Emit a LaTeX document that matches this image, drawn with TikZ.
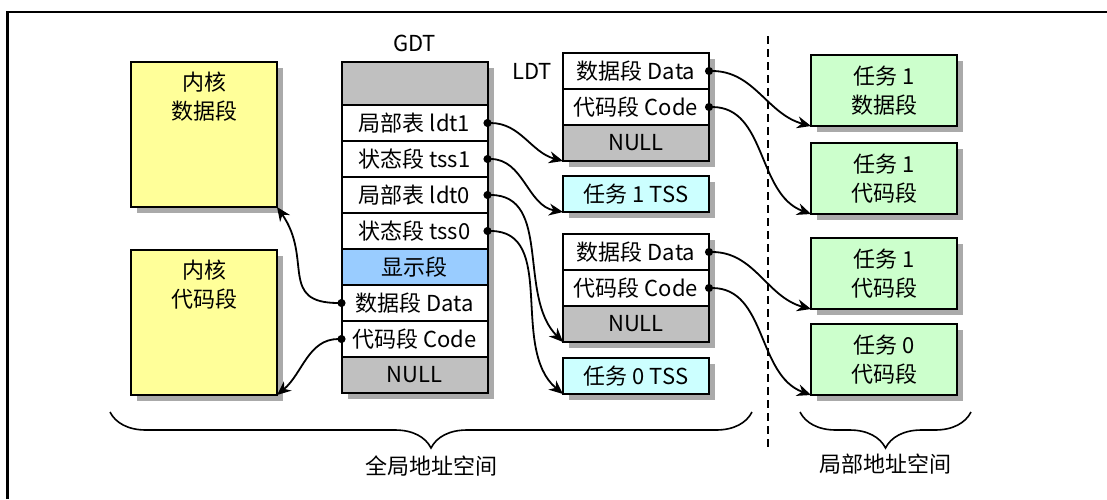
\documentclass[tikz,border=0pt]{standalone}
\usepackage{fontspec}
\setmainfont{Noto Sans CJK SC}
\usetikzlibrary{positioning,arrows.meta,decorations.pathreplacing}
\definecolor{nullgrey}{RGB}{192,192,192}
\definecolor{kernyellow}{RGB}{255,255,153}
\definecolor{vidblue}{RGB}{153,204,255}
\definecolor{tsscyan}{RGB}{204,255,255}
\definecolor{taskgreen}{RGB}{204,255,204}
\definecolor{shadegrey}{RGB}{170,170,170}

\begin{document}
\begin{tikzpicture}[x=0.5pt, y=-0.5pt,
    row/.style={rectangle, draw, line width=1pt, fill=white, minimum width=73pt, minimum height=18pt, inner sep=0pt, outer sep=0pt, font=\fontsize{11}{14.5}\selectfont},
    nullrow/.style={row, fill=nullgrey},
    kernel/.style={row, fill=kernyellow, minimum height=72.5pt},
    kerntext/.style={anchor=north, align=center, yshift=-1.5pt, font=\fontsize{11}{14.5}\selectfont},
    tss/.style={row, fill=tsscyan},
    taskseg/.style={row, fill=taskgreen, minimum height=35.5pt, align=center},
    tablename/.style={font=\fontsize{11}{14.5}\selectfont},
    shadowbox/.style={fill=shadegrey},
    link/.style={line width=0.9pt, shorten <=-2pt, {Circle[length=4pt]}-{Stealth[length=7pt, width=6pt]}},
    brace/.style={decorate, decoration={brace, mirror, amplitude=18pt}, line width=0.8pt},
    sepline/.style={dash pattern=on 4pt off 2.5pt, line width=0.7pt}
  ]
    \useasboundingbox (0,0) rectangle (1107,499);

    % Frame
    \draw[line width=1.2pt] (7.5,499) -- (7.5,12) -- (1107,12);

    % Shadows
    \foreach \xa/\ya/\xb/\yb in {131/62/277/207, 131/250/277/395, 341.5/62/487.5/393,
        563/53/709/161, 563/176/709/212, 563/234/709/342, 563/358/709/394,
        811/55/957/126, 811/143/957/214, 811/238/957/309, 811/324/957/395}
      \fill[shadowbox] (\xa+6,\ya+6) rectangle (\xb+6,\yb+6);

    % Kernel segments
    \node[kernel, label={[kerntext]north:内核\\数据段}] (kdata) at (204,134.5) {};
    \node[kernel, label={[kerntext]north:内核\\代码段}, below=21.5pt of kdata] (kcode) {};

    % GDT
    \node[tablename] (gdtname) at (414.5,43) {GDT};
    \node[nullrow, minimum height=21.5pt] (g0) at (414.5,83.5) {};
    \node[row, below=0pt of g0] (gl1) {局部表 ldt1};
    \node[row, below=0pt of gl1] (gt1) {状态段 tss1};
    \node[row, below=0pt of gt1] (gl0) {局部表 ldt0};
    \node[row, below=0pt of gl0] (gt0) {状态段 tss0};
    \node[row, fill=vidblue, below=0pt of gt0] (gvid) {显示段};
    \node[row, below=0pt of gvid] (gdata) {数据段 Data};
    \node[row, below=0pt of gdata] (gcode) {代码段 Code};
    \node[nullrow, below=0pt of gcode] (gnull) {NULL};

    % LDT of task 1
    \node[tablename] (ldtname) at (532,71) {LDT};
    \node[row] (l1data) at (636,71) {数据段 Data};
    \node[row, below=0pt of l1data] (l1code) {代码段 Code};
    \node[nullrow, below=0pt of l1code] (l1null) {NULL};
    \node[tss, below=7.5pt of l1null] (tss1) {任务 1 TSS};

    % LDT of task 0
    \node[row] (l0data) at (636,252) {数据段 Data};
    \node[row, below=0pt of l0data] (l0code) {代码段 Code};
    \node[nullrow, below=0pt of l0code] (l0null) {NULL};
    \node[tss, below=8pt of l0null] (tss0) {任务 0 TSS};

    % Task segments
    \node[taskseg] (t1data) at (884,90.5) {任务 1\\数据段};
    \node[taskseg, below=8.5pt of t1data] (t1code) {任务 1\\代码段};
    \node[taskseg, below=12pt of t1code] (t1code2) {任务 1\\代码段};
    \node[taskseg, below=7.5pt of t1code2] (t0code) {任务 0\\代码段};

    % Separator
    \coordinate (septop) at (768,36);
    \coordinate (sepbot) at (768,449);
    \draw[sepline] (septop) -- (sepbot);

    % Links
    \draw[link] (gl1.east) to[out=0, in=165] (l1null.south west);
    \draw[link] (gt1.east) to[out=0, in=170] (tss1.south west);
    \draw[link] (gl0.east) to[out=0, in=135] (l0null.south west);
    \draw[link] (gt0.east) to[out=0, in=140] (tss0.south west);
    \draw[link] (gdata.west) to[out=180, in=-55, looseness=1.4] (kdata.south east);
    \draw[link] (gcode.west) to[out=180, in=40] (kcode.south east);
    \draw[link] (l1data.east) to[out=0, in=165] (t1data.south west);
    \draw[link] (l1code.east) to[out=0, in=160] (t1code.south west);
    \draw[link] (l0data.east) to[out=0, in=165] (t1code2.south west);
    \draw[link] (l0code.east) to[out=0, in=160] (t0code.south west);

    % Braces
    \coordinate (gleft) at (110,412);
    \coordinate (gright) at (752,412);
    \coordinate (lleft) at (800,412);
    \coordinate (lright) at (971,412);
    \draw[brace] (gleft) -- (gright);
    \draw[brace] (lleft) -- (lright);
    \node[tablename] (gspace) at (431,466) {全局地址空间};
    \node[tablename] (lspace) at (885.5,464) {局部地址空间};
  \end{tikzpicture}
\end{document}
